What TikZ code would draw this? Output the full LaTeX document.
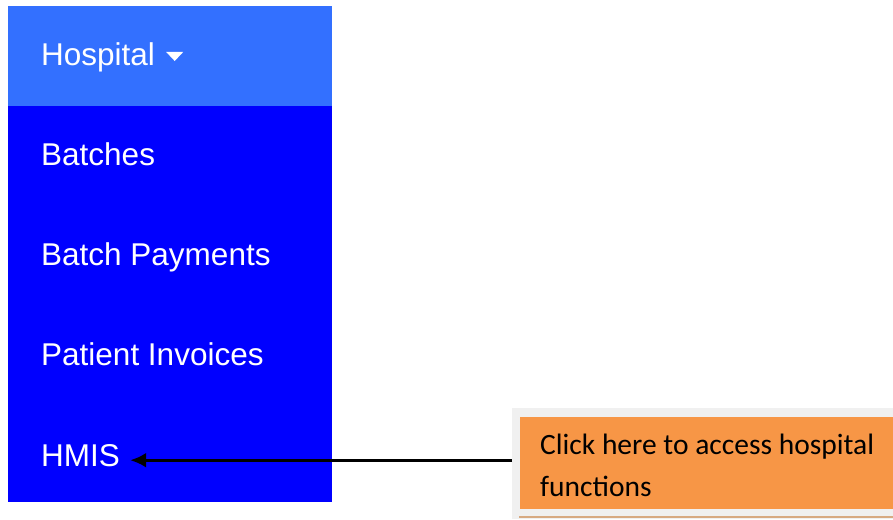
\documentclass[tikz,border=0pt]{standalone}
\usepackage{fontspec}
\setmainfont{Liberation Sans}
\newfontfamily\calloutfont{Carlito}
\usepackage{xcolor}
\usetikzlibrary{arrows.meta}
\definecolor{headblue}{RGB}{51,112,255}
\definecolor{menublue}{RGB}{0,0,255}
\definecolor{calloutorange}{RGB}{247,150,70}
\definecolor{calloutgray}{RGB}{240,240,240}
\definecolor{calloutline}{RGB}{215,170,130}

\begin{document}
\begin{tikzpicture}[x=1pt, y=-1pt, >=latex,
                    item/.style = {anchor=base west, text=white, inner sep=0pt,
                                   font=\fontsize{31.5}{36}\selectfont},
                    frame/.style = {anchor=north west, fill=calloutgray, inner sep=0pt,
                                    minimum width=381pt, minimum height=111pt},
                    callout/.style = {anchor=base west, align=left, inner sep=0pt,
                                      font=\calloutfont\fontsize{29.5}{41.5}\selectfont}]
                    \useasboundingbox (0,0) rectangle (893,519);
                    \fill[headblue] (8,6) rectangle (332,106);
                    \fill[menublue] (8,106) rectangle (332,502);
                    \node[item] (hospital) at (41,65) {Hospital};
                    \fill[white] ([xshift=11pt, yshift=13pt]hospital.base east)
                        -- ++(17,0) -- ++(-8.5,9) -- cycle;
                    \node[item] (batches) at (41,165) {Batches};
                    \node[item] (payments) at (41,265) {Batch Payments};
                    \node[item] (invoices) at (41,365) {Patient Invoices};
                    \node[item] (hmis) at (41,466) {HMIS};

                    \node[frame] (frame) at (512,408) {};
                    \fill[calloutorange] (520,417) rectangle (893,509);
                    \draw[calloutline, line width=1.5pt] (519,517) -- (893,517);
                    \node[callout] (callout) at (540,496) {Click here to access hospital\\functions};
                    \coordinate (start) at ([yshift=3.5pt]frame.west);
                    \draw[line width=3pt, arrows = {-Latex[length=16, width=15]}, shorten >=10pt]
                        (start) -- (start -| hmis.east);
            \end{tikzpicture}
\end{document}
